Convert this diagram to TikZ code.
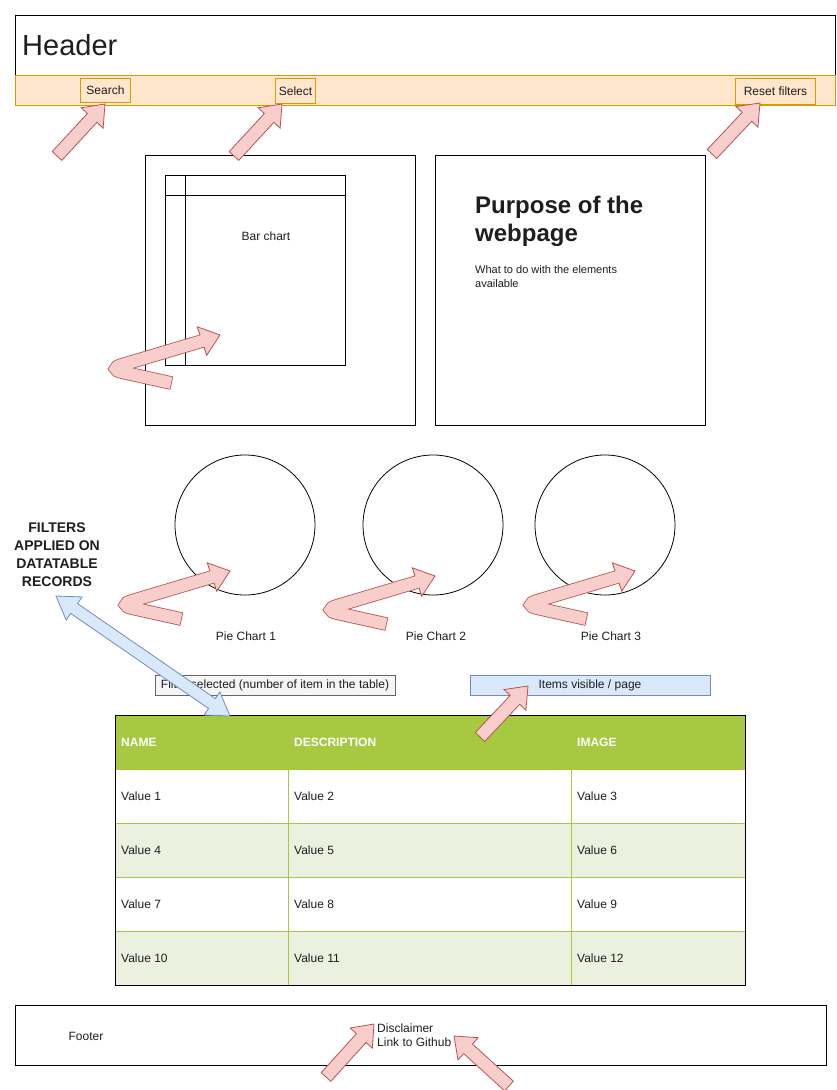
\documentclass[tikz,border=0pt]{standalone}
\usepackage{fontspec}
\setmainfont{Liberation Sans}
\usetikzlibrary{calc}
\definecolor{orfill}{HTML}{FFE6CC}
\definecolor{orline}{HTML}{D79B00}
\definecolor{pkfill}{HTML}{F8CECC}
\definecolor{pkline}{HTML}{B85450}
\definecolor{blfill}{HTML}{DAE8FC}
\definecolor{blline}{HTML}{6C8EBF}
\definecolor{tgreen}{HTML}{A7C942}
\definecolor{tlight}{HTML}{EBF1DE}
\definecolor{grfill}{HTML}{F5F5F5}
\definecolor{grline}{HTML}{666666}
\definecolor{txt}{HTML}{1E1E1E}
\tikzset{
  box/.style={draw=black, line width=0.9pt, fill=white, inner sep=0pt, anchor=north west},
  lbl/.style={font=\fontsize{12}{14}\selectfont, text=txt, inner sep=0pt},
  orbox/.style={draw=orline, line width=1pt, fill=orfill, inner sep=0pt, anchor=north west, font=\fontsize{12}{14}\selectfont, text=txt},
  pkarrow/.style={draw=pkline, fill=pkfill, line width=0.8pt, line join=miter},
  blarrow/.style={draw=blline, fill=blfill, line width=0.8pt, line join=miter},
  pie/.style={draw=black, line width=0.8pt, circle, minimum size=140pt, inner sep=0pt},
  cell/.style={draw=tgreen, line width=0.8pt, anchor=north west, minimum height=54pt, inner ysep=0pt, inner xsep=6pt, align=left, font=\fontsize{12}{14}\selectfont, text=txt},
}
% straight block arrow from #2 (tail) to #3 (tip)
\newcommand\blockarrow[3][pkarrow]{%
  \coordinate (bac) at ($(#3)!19pt!(#2)$);
  \draw[#1] ($(#2)!6.5pt!90:(#3)$) -- ($(bac)!6.5pt!-90:(#2)$) -- ($(bac)!15pt!-90:(#2)$) -- (#3)
     -- ($(bac)!15pt!90:(#2)$) -- ($(bac)!6.5pt!90:(#2)$) -- ($(#2)!6.5pt!-90:(#3)$) -- cycle;
}
% double-headed block arrow between #2 and #3
\newcommand\dblarrow[3][blarrow]{%
  \coordinate (dca) at ($(#2)!22pt!(#3)$);
  \coordinate (dcb) at ($(#3)!22pt!(#2)$);
  \draw[#1] (#2) -- ($(dca)!14pt!90:(#3)$) -- ($(dca)!6pt!90:(#3)$) -- ($(dcb)!6pt!-90:(#2)$)
     -- ($(dcb)!14pt!-90:(#2)$) -- (#3) -- ($(dcb)!14pt!90:(#2)$) -- ($(dcb)!6pt!90:(#2)$)
     -- ($(dca)!6pt!-90:(#3)$) -- ($(dca)!14pt!-90:(#3)$) -- cycle;
}
% bent (hook) arrow ending at tip #1
\newcommand\hookarrow[1]{%
  \coordinate (hT) at ($(#1)+(-49,48)$);
  \coordinate (hK) at ($(#1)+(-112,34)$);
  \coordinate (hH) at ($(#1)+(-18,6)$);
  \draw[pkarrow] (hH) -- ($(hH)!15pt!90:(#1)$) -- (#1) -- ($(hH)!15pt!-90:(#1)$) -- cycle;
  \draw[pkline, line width=13.6pt, rounded corners=14pt, shorten <=-0.8pt] (hT) -- (hK) -- (hH);
  \draw[pkfill, line width=12pt, rounded corners=14pt, shorten >=-3pt] (hT) -- (hK) -- (hH);
}
\begin{document}
\begin{tikzpicture}[x=1pt, y=-1pt]
\useasboundingbox[fill=white] (0,0) rectangle (836,1090);

% header
\node[box, minimum width=820, minimum height=60] (header) at (15,15) {};
\node[lbl, font=\fontsize{29}{32}\selectfont, anchor=west] (headertxt) at (22,45) {Header};

% filter bar
\node[box, draw=orline, fill=orfill, minimum width=820, minimum height=30] (bar) at (15,75) {};
\node[orbox, minimum width=50, minimum height=24] (search) at (80,78) {Search};
\node[orbox, minimum width=40, minimum height=25] (select) at (275,78) {Select};
\node[orbox, minimum width=80, minimum height=26] (reset) at (735,78) {Reset filters};

% bar chart panel
\node[box, minimum width=270, minimum height=270] (barpanel) at (145,155) {};
\node[box, minimum width=180, minimum height=190] (bartable) at (165,175) {};
\draw[line width=0.9pt] (185,175) -- (185,365);
\draw[line width=0.9pt] (165,195) -- (345,195);
\node[lbl] (bartxt) at (266,236) {Bar chart};

% purpose panel
\node[box, minimum width=270, minimum height=270] (purpose) at (435,155) {};
\node[lbl, font=\bfseries\fontsize{24}{28}\selectfont, align=left, anchor=north west] (ptitle) at (475,195.5) {Purpose of the\\webpage};
\node[lbl, font=\fontsize{11}{14}\selectfont, align=left, anchor=north west] (pbody) at (475,265.5) {What to do with the elements\\available};

% pie charts
\node[pie] (pie1) at (245,525) {};
\node[pie] (pie2) at (433,525) {};
\node[pie] (pie3) at (605,525) {};
\node[lbl] (pie1l) at (246,636) {Pie Chart 1};
\node[lbl] (pie2l) at (436,636) {Pie Chart 2};
\node[lbl] (pie3l) at (611,636) {Pie Chart 3};

% filters caption
\node[lbl, font=\bfseries\fontsize{14}{18}\selectfont, align=center, anchor=north] (filters) at (57,522.5) {FILTERS\\APPLIED ON\\DATATABLE\\RECORDS};

% boxes above table
\node[box, draw=grline, fill=grfill, line width=0.8pt, minimum width=240, minimum height=20] (fsel) at (155,675) {};
\node[lbl] (fseltxt) at (275,685) {Filter selected (number of item in the table)};
\node[box, draw=blline, fill=blfill, line width=0.8pt, minimum width=240, minimum height=20] (items) at (470,675) {};
\node[lbl] (itemstxt) at (590,685) {Items visible / page};

% table
\foreach \r/\y/\f in {0/715/tgreen,1/769/white,2/823/tlight,3/877/white,4/931/tlight}{
  \node[cell, fill=\f, text width=161pt] (c\r a) at (115,\y) {};
  \node[cell, fill=\f, text width=271pt] (c\r b) at (288,\y) {};
  \node[cell, fill=\f, text width=162pt] (c\r c) at (571,\y) {};
}
\foreach \r/\y/\a/\b/\c in {1/796/Value 1/Value 2/Value 3,2/850/Value 4/Value 5/Value 6,3/904/Value 7/Value 8/Value 9,4/958/Value 10/Value 11/Value 12}{
  \node[lbl, anchor=west] (v\r a) at (121,\y) {\a};
  \node[lbl, anchor=west] (v\r b) at (294,\y) {\b};
  \node[lbl, anchor=west] (v\r c) at (577,\y) {\c};
}
\node[lbl, anchor=west, text=white, font=\bfseries\fontsize{12}{14}\selectfont] (hname) at (121,742) {NAME};
\node[lbl, anchor=west, text=white, font=\bfseries\fontsize{12}{14}\selectfont] (hdesc) at (294,742) {DESCRIPTION};
\node[lbl, anchor=west, text=white, font=\bfseries\fontsize{12}{14}\selectfont] (himg) at (577,742) {IMAGE};
\draw[line width=1pt] (115,715) rectangle (745,985);

% footer
\node[box, minimum width=811, minimum height=60] (footer) at (15,1005) {};
\node[lbl] (footertxt) at (86,1036) {Footer};
\node[lbl, align=left, anchor=west] (links) at (377,1035.5) {Disclaimer\\Link to Github};
\fill[black] (365,1043) circle (1.1);

% arrows
\coordinate (sT) at (57,156);   \coordinate (sP) at (105,104);
\coordinate (lT) at (234,156);  \coordinate (lP) at (282,104);
\coordinate (rT) at (712,154);  \coordinate (rP) at (760,103);
\blockarrow{sT}{sP}
\blockarrow{lT}{lP}
\blockarrow{rT}{rP}

\coordinate (bP) at (220,335);
\coordinate (p1P) at (230,571);
\coordinate (p2P) at (435,576);
\coordinate (p3P) at (635,571);
\hookarrow{bP}
\hookarrow{p1P}
\hookarrow{p2P}
\hookarrow{p3P}

\coordinate (fA) at (56,596);
\coordinate (fB) at (230,716);
\dblarrow{fA}{fB}

\coordinate (iT) at (480,737);  \coordinate (iP) at (528,686);
\blockarrow{iT}{iP}

\coordinate (dT) at (326,1077); \coordinate (dP) at (374,1024);
\coordinate (gT) at (509,1086); \coordinate (gP) at (454,1036);
\blockarrow{dT}{dP}
\blockarrow{gT}{gP}
\end{tikzpicture}
\end{document}
